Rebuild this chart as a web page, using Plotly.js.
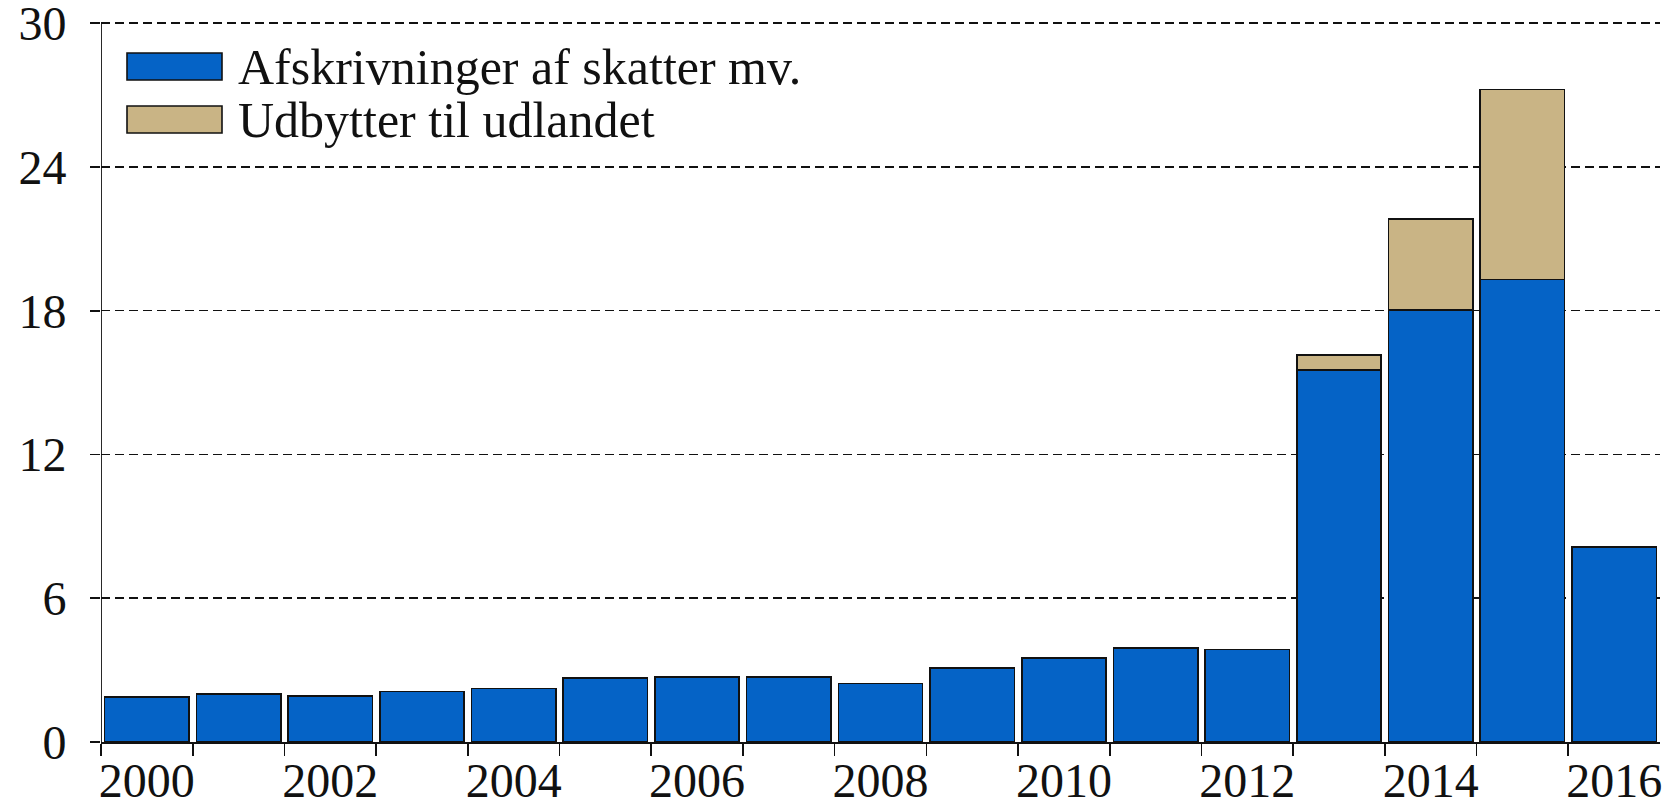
<!DOCTYPE html>
<html>
<head>
<meta charset="utf-8">
<script src="https://cdn.plot.ly/plotly-3.0.1.min.js"></script>
<style>html,body{margin:0;padding:0;background:#fff;}#chart{width:1675px;height:804px;}</style>
</head>
<body>
<div id="chart"></div>
<script>
// ---- data ----
const years = [2000,2001,2002,2003,2004,2005,2006,2007,2008,2009,2010,2011,2012,2013,2014,2015,2016];
const afskrivninger = [1.87,2.00,1.93,2.10,2.24,2.66,2.72,2.72,2.45,3.08,3.50,3.92,3.86,15.52,18.04,19.30,8.15];
const udbytter = [0,0,0,0,0,0,0,0,0,0,0,0,0,0.63,3.78,7.93,0];
const seriesNames = ["Afskrivninger af skatter mv.", "Udbytter til udlandet"];
const seriesColors = ["#0563C6", "#C9B485"];
const xTickYears = [2000,2002,2004,2006,2008,2010,2012,2014,2016];
const yTicks = [0,6,12,18,24,30];

// ---- layout geometry (pixels) ----
const W = 1675, H = 804;
const M = {l:101, r:15, t:16, b:62};
const pw = W - M.l - M.r, ph = H - M.t - M.b;
const px = x => (x - M.l) / pw;
const py = y => 1 - (y - M.t) / ph;

const font = "Liberation Serif, Times New Roman, serif";
const xStart = years[0] - 0.5, xEnd = years[years.length - 1] + 0.5;

const traces = [
  {type:'bar', x:years, y:afskrivninger, name:seriesNames[0],
   marker:{color:seriesColors[0], line:{color:'#111', width:1.6}}, hoverinfo:'x+y'},
  {type:'bar', x:years, y:udbytter, name:seriesNames[1],
   marker:{color:seriesColors[1], line:{color:'#111', width:1.6}}, hoverinfo:'x+y'}
];

const boundaries = years.slice(0, -1).map(y => y + 0.5).concat([xStart]);

// custom legend
const legendRows = [66.5, 119.5];
const shapes = legendRows.map((cy, i) => ({
  type:'rect', xref:'paper', yref:'paper',
  x0:px(127), x1:px(222), y0:py(cy - 13.5), y1:py(cy + 13.5),
  fillcolor:seriesColors[i], line:{color:'#111', width:1.6}
}));
// y axis line from 0 to the top tick only
shapes.push({type:'line', xref:'x', yref:'y', x0:xStart, x1:xStart, layer:'above',
  y0:yTicks[0], y1:yTicks[yTicks.length - 1], line:{color:'#111', width:1.8}});

const annotations = legendRows.map((cy, i) => ({
  xref:'paper', yref:'paper', x:px(236), y:py(cy), xanchor:'left', yanchor:'middle',
  text:seriesNames[i], showarrow:false, font:{family:font, size:50, color:'#111'}
}));

const layout = {
  width:W, height:H,
  margin:M,
  paper_bgcolor:'#fff', plot_bgcolor:'#fff',
  barmode:'stack', bargap:0.08,
  showlegend:false,
  xaxis:{
    type:'linear', range:[xStart, xEnd], fixedrange:true,
    tickmode:'array', tickvals:xTickYears, ticktext:xTickYears.map(String),
    ticks:'', showgrid:false, zeroline:false,
    showline:true, linecolor:'#111', linewidth:1.6,
    tickfont:{family:font, size:48, color:'#111'},
    ticklabelstandoff:-4, ticklabeloverflow:'allow',
    minor:{tickmode:'array', tickvals:boundaries, ticks:'outside', ticklen:12, tickwidth:1.6, tickcolor:'#111', showgrid:false}
  },
  yaxis:{
    range:[0,30.3], fixedrange:true,
    tickmode:'array', tickvals:yTicks, ticktext:yTicks.map(String),
    ticks:'outside', ticklen:10, tickwidth:1.6, tickcolor:'#111',
    showgrid:true, gridcolor:'#111', gridwidth:1.5, griddash:'9px,5px',
    zeroline:false, showline:false,
    tickfont:{family:font, size:48, color:'#111'},
    ticklabelstandoff:14, ticklabeloverflow:'allow'
  },
  shapes:shapes,
  annotations:annotations
};

Plotly.newPlot('chart', traces, layout, {displayModeBar:false, staticPlot:true});
</script>
</body>
</html>
